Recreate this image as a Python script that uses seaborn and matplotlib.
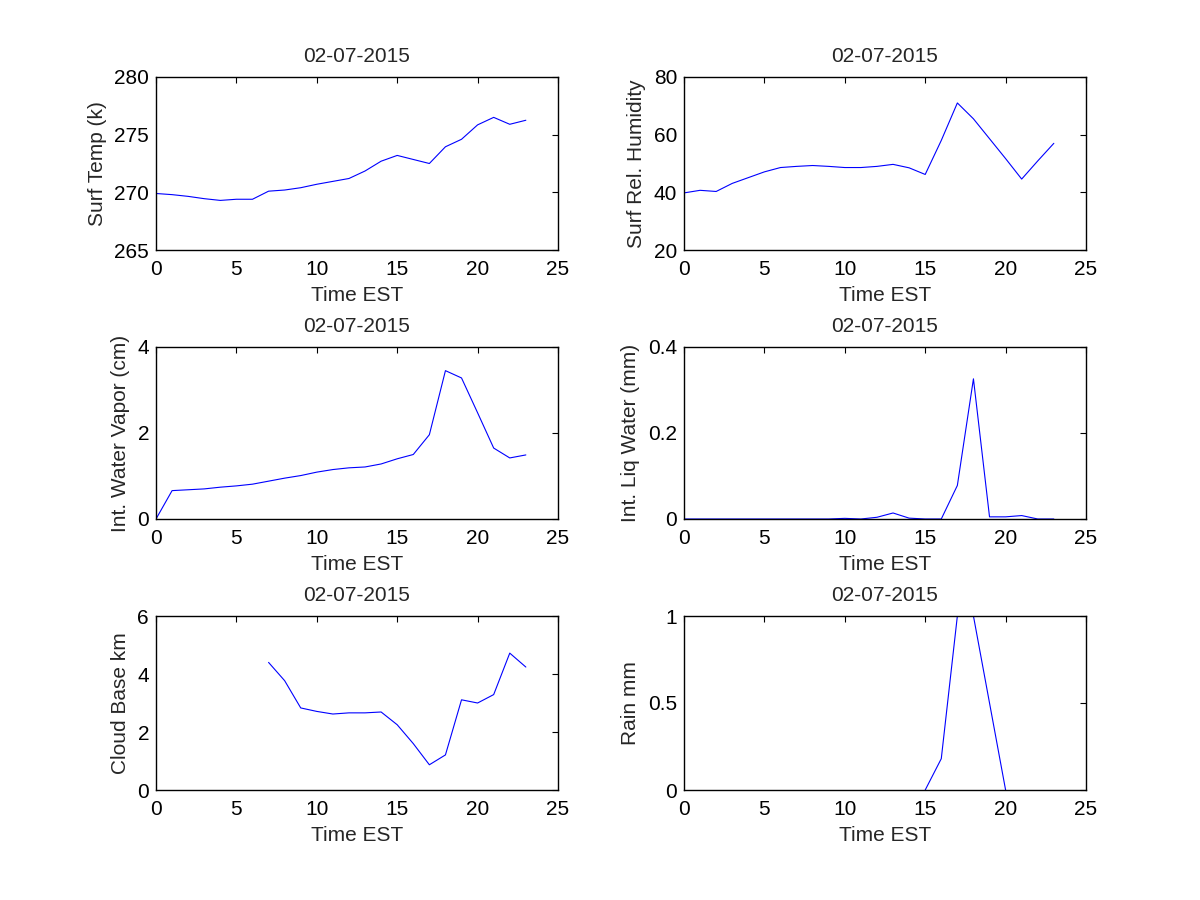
import numpy as np
import pandas as pd
import seaborn as sns
import matplotlib
matplotlib.use("Agg")
import matplotlib.pyplot as plt

## data (hourly, 0-23 EST)
hours = list(range(24))
date_label = "02-07-2015"

surf_temp = [269.9, 269.8, 269.65, 269.45, 269.3, 269.4, 269.4, 270.1, 270.2, 270.4,
             270.7, 270.95, 271.2, 271.85, 272.7, 273.2, 272.85, 272.5, 273.95, 274.6,
             275.85, 276.5, 275.9, 276.25]
surf_rh = [39.8, 40.7, 40.3, 43.1, 45.1, 47.1, 48.6, 49.0, 49.3, 49.0,
           48.6, 48.6, 49.0, 49.7, 48.5, 46.2, 58.0, 71.0, 65.5, 58.6,
           51.7, 44.6, 50.9, 57.0]
water_vapor = [0.0, 0.66, 0.68, 0.70, 0.74, 0.77, 0.81, 0.88, 0.95, 1.01,
               1.09, 1.15, 1.19, 1.21, 1.28, 1.40, 1.50, 1.96, 3.45, 3.28,
               2.47, 1.65, 1.42, 1.49]
liq_water = [0, 0, 0, 0, 0, 0, 0, 0, 0, 0,
             0.0015, 0, 0.004, 0.014, 0.002, 0, 0, 0.078, 0.326, 0.005,
             0.005, 0.008, 0, 0]
cloud_base = [np.nan] * 7 + [4.40, 3.77, 2.83, 2.71, 2.62, 2.66, 2.66, 2.69, 2.25,
                             1.60, 0.87, 1.21, 3.11, 3.00, 3.29, 4.72, 4.24]
rain = [np.nan] * 15 + [0.0, 0.18, 1.0, 1.0, 0.5, 0.0] + [np.nan] * 3

panels = [
    ("Surf Temp (k)", surf_temp, (265, 280), [265, 270, 275, 280], ["265", "270", "275", "280"]),
    ("Surf Rel. Humidity", surf_rh, (20, 80), [20, 40, 60, 80], ["20", "40", "60", "80"]),
    ("Int. Water Vapor (cm)", water_vapor, (0, 4), [0, 2, 4], ["0", "2", "4"]),
    ("Int. Liq Water (mm)", liq_water, (0, 0.4), [0, 0.2, 0.4], ["0", "0.2", "0.4"]),
    ("Cloud Base km", cloud_base, (0, 6), [0, 2, 4, 6], ["0", "2", "4", "6"]),
    ("Rain mm", rain, (0, 1), [0, 0.5, 1], ["0", "0.5", "1"]),
]

sns.set_style("white")
plt.rcParams["font.family"] = ["Liberation Sans", "DejaVu Sans"]
fs = 15

fig = plt.figure(figsize=(12, 9), dpi=100)

col_x = [(156, 558), (684, 1086)]
row_y = [(77, 250), (347, 519), (616, 790)]

for i, (ylab, vals, ylim, yticks, ytl) in enumerate(panels):
    r, c = divmod(i, 2)
    x0, x1 = col_x[c]
    y0, y1 = row_y[r]
    ax = fig.add_axes([x0 / 1200, 1 - y1 / 900, (x1 - x0) / 1200, (y1 - y0) / 900])
    df = pd.DataFrame({"hour": hours, "val": vals})
    sns.lineplot(data=df, x="hour", y="val", ax=ax, color="blue", linewidth=0.8)
    ax.set_xlim(0, 25)
    ax.set_ylim(*ylim)
    ax.set_xticks([0, 5, 10, 15, 20, 25])
    ax.set_yticks(yticks)
    ax.set_yticklabels(ytl)
    ax.tick_params(direction="in", length=4, width=0.8, top=True, right=True,
                   labelsize=fs, colors="black")
    ax.tick_params(axis="x", pad=7.5)
    ax.tick_params(axis="y", pad=5)
    for s in ax.spines.values():
        s.set_visible(True)
        s.set_color("black")
        s.set_linewidth(1.0)
        s.set_zorder(5)
    ax.set_xlabel("Time EST", fontsize=fs, labelpad=5)
    ax.set_ylabel(ylab, fontsize=fs, labelpad=5.5)
    ax.set_title(date_label, fontsize=fs, pad=11)

fig.savefig("out.png", dpi=100, facecolor="white")
